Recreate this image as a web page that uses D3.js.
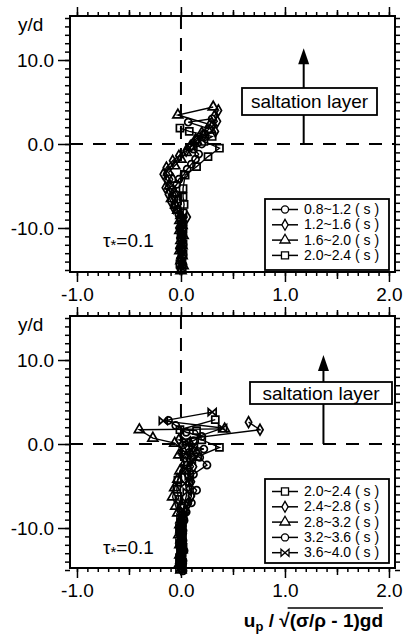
<!DOCTYPE html>
<html>
<head>
<meta charset="utf-8">
<script src="https://cdn.jsdelivr.net/npm/d3@7"></script>
<style>
  body { margin: 0; background: #fff; }
  text { font-family: "Liberation Sans", Arial, Helvetica, sans-serif; fill: #000; }
</style>
</head>
<body>
<svg id="chart" width="404" height="635"></svg>
<script>
// tick labels
var xTicks = [-1.0, 0.0, 1.0, 2.0];
var yTicks = [-10.0, 0.0, 10.0];
var tauValue = "0.1";

// ---- upper panel: [u_p / sqrt((s-1)gd), y/d] for each time window ----
var upLabels = ["0.8~1.2 ( s )", "1.2~1.6 ( s )", "1.6~2.0 ( s )", "2.0~2.4 ( s )"];
var upSymbols = ["circle", "diamond", "triangle", "square"];

var up_08_12 = [[0.01,-15.0],[0.02,-14.4],[0.00,-13.8],[0.02,-13.2],[0.01,-12.6],[0.02,-12.0],[0.00,-11.4],[0.02,-10.8],
  [0.01,-10.2],[0.02,-9.6],[0.00,-9.0],[-0.02,-8.4],[-0.04,-7.8],[-0.06,-7.2],[-0.03,-6.6],[-0.05,-6.0],[-0.08,-5.4],
  [-0.04,-4.8],[-0.02,-4.2],[0.03,-3.6],[0.06,-3.0],[0.10,-2.4],[0.14,-1.8],[0.17,-1.2],[0.12,-0.6],[0.20,0.0],
  [0.16,0.6],[0.22,1.2],[0.27,1.8],[0.07,2.6],[0.30,3.0]];
var up_12_16 = [[-0.01,-14.8],[0.01,-14.2],[-0.01,-13.6],[0.00,-13.0],[-0.02,-12.4],[0.01,-11.8],[-0.01,-11.2],[0.00,-10.6],
  [-0.02,-10.0],[0.01,-9.4],[0.06,-8.7],[-0.07,-7.6],[-0.10,-6.8],[-0.12,-6.0],[-0.15,-5.2],[-0.13,-4.4],[-0.17,-3.6],
  [-0.14,-2.8],[-0.08,-2.0],[-0.02,-1.4],[0.05,-0.8],[0.10,-0.2],[0.15,0.4],[0.22,1.0],[0.33,1.5],[0.30,2.1],
  [0.35,2.7],[0.32,3.3],[0.36,4.0]];
var up_16_20 = [[0.00,-15.1],[0.02,-14.5],[0.00,-13.9],[0.01,-13.3],[-0.01,-12.7],[0.01,-12.1],[0.00,-11.5],[0.02,-10.9],
  [-0.01,-10.3],[0.01,-9.7],[-0.01,-9.1],[0.00,-8.5],[-0.03,-7.9],[-0.05,-7.3],[-0.09,-6.5],[-0.07,-5.8],[-0.11,-5.0],
  [-0.08,-4.2],[-0.12,-3.4],[-0.06,-2.6],[0.00,-1.8],[0.05,-1.0],[0.09,-0.3],[0.14,0.5],[0.20,1.3],[0.28,2.3],
  [-0.03,3.45],[0.31,4.4]];
var up_20_24 = [[0.01,-14.9],[-0.01,-14.3],[0.01,-13.7],[0.02,-13.1],[0.00,-12.5],[0.02,-11.9],[0.01,-11.3],[0.00,-10.7],
  [0.02,-10.1],[0.01,-9.5],[0.00,-8.9],[0.02,-8.2],[0.03,-7.2],[0.02,-6.3],[0.02,-5.3],[0.04,-3.7],[0.15,-2.7],
  [0.26,-1.5],[0.37,-0.5],[0.22,0.3],[0.30,0.9],[0.08,1.5],[-0.01,1.9]];

// ---- lower panel ----
var loLabels = ["2.0~2.4 ( s )", "2.4~2.8 ( s )", "2.8~3.2 ( s )", "3.2~3.6 ( s )", "3.6~4.0 ( s )"];
var loSymbols = ["square", "diamond", "triangle", "circle", "bowtie"];

var lo_20_24 = [[0.01,-14.7],[-0.01,-14.1],[0.01,-13.5],[0.00,-12.9],[0.02,-12.3],[0.00,-11.7],[0.01,-11.1],[-0.01,-10.5],
  [0.01,-9.9],[0.00,-9.3],[0.02,-8.6],[0.00,-7.6],[-0.02,-6.6],[-0.04,-5.4],[-0.03,-4.3],[0.06,-2.5],[0.16,-1.5],
  [0.37,-0.4],[0.20,0.5],[0.15,1.6],[-0.01,1.7],[0.33,2.9]];
var lo_24_28 = [[0.00,-14.9],[0.02,-14.3],[0.00,-13.7],[0.01,-13.1],[-0.01,-12.5],[0.01,-11.9],[0.00,-11.3],[0.02,-10.7],
  [0.00,-10.1],[0.01,-9.5],[0.03,-8.9],[0.05,-8.0],[0.07,-7.1],[0.10,-6.2],[0.08,-5.3],[0.10,-4.5],[0.06,-3.6],
  [0.12,-2.7],[0.08,-1.8],[0.15,-1.0],[0.10,-0.2],[-0.02,0.5],[0.76,1.7],[0.65,2.6]];
var lo_28_32 = [[0.00,-15.0],[-0.02,-14.4],[0.00,-13.8],[-0.01,-13.2],[0.01,-12.6],[-0.01,-12.0],[0.00,-11.4],[-0.02,-10.8],
  [0.00,-10.2],[-0.01,-9.6],[0.00,-9.0],[-0.03,-8.2],[-0.05,-7.4],[-0.08,-6.3],[-0.06,-5.2],[-0.03,-4.2],[-0.01,-3.2],
  [0.04,-2.2],[-0.02,-1.3],[0.02,-0.8],[-0.06,0.1],[-0.27,0.7],[-0.40,1.7],[0.42,1.8]];
var lo_32_36 = [[0.02,-15.1],[0.00,-14.5],[0.02,-13.9],[0.01,-13.3],[0.03,-12.7],[0.01,-12.1],[0.02,-11.5],[0.00,-10.9],
  [0.02,-10.3],[0.01,-9.7],[0.03,-9.1],[0.05,-8.1],[0.10,-7.0],[0.15,-5.5],[0.08,-4.6],[0.12,-3.6],[0.25,-2.5],
  [0.18,-1.6],[0.08,-1.0],[0.22,-0.6],[0.02,-0.1],[0.12,0.4],[0.20,0.9],[0.05,1.4],[-0.05,2.2],[-0.12,2.8]];
var lo_36_40 = [[-0.01,-14.8],[0.01,-14.2],[-0.01,-13.6],[0.00,-13.0],[0.01,-12.4],[-0.01,-11.8],[0.01,-11.2],[0.00,-10.6],
  [-0.01,-10.0],[0.01,-9.4],[0.00,-8.8],[0.02,-7.8],[0.04,-6.8],[0.06,-5.7],[0.04,-4.7],[0.08,-3.8],[0.05,-2.9],
  [0.10,-2.0],[0.05,-1.1],[0.12,-0.3],[0.05,0.4],[0.40,1.9],[-0.17,2.75],[0.30,3.8]];

var svg = d3.select("#chart");

var x = d3.scaleLinear().domain([-1.067, 2.058]).range([70, 395]);

// marker shapes
var bowtie = "M-4,-3.5L4,3.5L4,-3.5L-4,3.5Z";
function symbolPath(name) {
  if (name == "bowtie") return bowtie;
  var types = {circle: [d3.symbolCircle, 40], diamond: [d3.symbolDiamond, 34],
               triangle: [d3.symbolTriangle, 44], square: [d3.symbolSquare, 50]};
  return d3.symbol().type(types[name][0]).size(types[name][1])();
}

function fmt(d) { return d.toFixed(1); }

function drawPanel(opt) {
  var y = d3.scaleLinear().domain(opt.yDomain).range([opt.bottom, opt.top]);
  var g = svg.append("g");

  // dashed reference lines
  g.append("line")
    .attr("x1", x.range()[0]).attr("x2", x.range()[1])
    .attr("y1", y(0)).attr("y2", y(0))
    .attr("stroke", "#000").attr("stroke-width", 2).attr("stroke-dasharray", "13,10");
  g.append("line")
    .attr("x1", x(0)).attr("x2", x(0))
    .attr("y1", opt.top).attr("y2", opt.bottom)
    .attr("stroke", "#000").attr("stroke-width", 2).attr("stroke-dasharray", "13,9");

  // axes: minor / medium / major ticks
  var minorX = d3.range(-10, 21).map(function(i) { return i / 10; });
  var midX = [-0.5, 0.5, 1.5];
  var minorY = d3.range(-15, 16);

  function addAxis(axis, transform) {
    var a = g.append("g").attr("transform", transform).call(axis);
    a.select(".domain").remove();
    a.selectAll("line").attr("stroke-width", 1.5);
    a.selectAll("text").attr("font-size", 19).attr("font-family", null);
    return a;
  }
  addAxis(d3.axisBottom(x).tickValues(minorX).tickSize(4).tickFormat(""), "translate(0," + opt.bottom + ")");
  addAxis(d3.axisBottom(x).tickValues(midX).tickSize(7).tickFormat(""), "translate(0," + opt.bottom + ")");
  addAxis(d3.axisBottom(x).tickValues(xTicks).tickSize(10).tickPadding(6).tickFormat(fmt), "translate(0," + opt.bottom + ")");
  addAxis(d3.axisTop(x).tickValues(minorX).tickSize(4).tickFormat(""), "translate(0," + opt.top + ")");
  addAxis(d3.axisTop(x).tickValues(midX).tickSize(6).tickFormat(""), "translate(0," + opt.top + ")");
  addAxis(d3.axisTop(x).tickValues(xTicks).tickSize(9).tickFormat(""), "translate(0," + opt.top + ")");
  addAxis(d3.axisLeft(y).tickValues(minorY).tickSize(5).tickFormat(""), "translate(70,0)");
  addAxis(d3.axisLeft(y).tickValues(yTicks).tickSize(12).tickPadding(4).tickFormat(fmt), "translate(70,0)");
  addAxis(d3.axisRight(y).tickValues(minorY).tickSize(5).tickFormat(""), "translate(395,0)");

  // frame
  g.append("rect")
    .attr("x", 70).attr("y", opt.top)
    .attr("width", 325).attr("height", opt.bottom - opt.top)
    .attr("fill", "none").attr("stroke", "#000").attr("stroke-width", 2);

  // y/d label
  g.append("text").attr("x", 18).attr("y", opt.top + 15).attr("font-size", 19).text("y/d");

  // saltation layer annotation
  var ax = x(opt.arrowX);
  var b = opt.box;
  g.append("line").attr("x1", ax).attr("x2", ax).attr("y1", y(0)).attr("y2", b[1] + b[3])
    .attr("stroke", "#000").attr("stroke-width", 2);
  g.append("line").attr("x1", ax).attr("x2", ax).attr("y1", b[1]).attr("y2", y(opt.arrowTip) + 15)
    .attr("stroke", "#000").attr("stroke-width", 2);
  g.append("path")
    .attr("d", "M" + ax + "," + y(opt.arrowTip) + "l-5.5,16h11z")
    .attr("fill", "#000");
  g.append("rect").attr("x", b[0]).attr("y", b[1]).attr("width", b[2]).attr("height", b[3])
    .attr("fill", "#fff").attr("stroke", "#000").attr("stroke-width", 1.8);
  g.append("text").attr("x", b[0] + b[2] / 2).attr("y", opt.boxText)
    .attr("text-anchor", "middle").attr("font-size", 19).text("saltation layer");

  // profiles
  var line = d3.line().x(function(d) { return x(d[0]); }).y(function(d) { return y(d[1]); });
  opt.series.forEach(function(s, i) {
    g.append("path").datum(s).attr("d", line)
      .attr("fill", "none").attr("stroke", "#000").attr("stroke-width", 1.4);
  });
  opt.series.forEach(function(s, i) {
    g.selectAll(null).data(s).enter().append("path")
      .attr("d", symbolPath(opt.symbols[i]))
      .attr("transform", function(d) { return "translate(" + x(d[0]) + "," + y(d[1]) + ")"; })
      .attr("fill", "none").attr("stroke", "#000").attr("stroke-width", 1.7);
  });

  // tau label
  var t = g.append("text").attr("x", 103).attr("y", opt.tauY).attr("font-size", 19);
  t.append("tspan").text("τ");
  t.append("tspan").attr("font-size", 15).attr("dy", 3).text("*");
  t.append("tspan").attr("dy", -3).text("=" + tauValue);

  // legend
  var L = opt.legend;
  var lg = g.append("g");
  lg.append("rect").attr("x", L[0]).attr("y", L[1]).attr("width", L[2]).attr("height", L[3])
    .attr("fill", "#fff").attr("stroke", "#000").attr("stroke-width", 1.8);
  opt.labels.forEach(function(lab, i) {
    var by = opt.legendBase + i * 15.3;
    var cy = by - 4.5;
    lg.append("line").attr("x1", 272).attr("x2", 298).attr("y1", cy).attr("y2", cy)
      .attr("stroke", "#000").attr("stroke-width", 1.5);
    lg.append("path").attr("d", symbolPath(opt.symbols[i]))
      .attr("transform", "translate(285," + cy + ")")
      .attr("fill", "#fff").attr("stroke", "#000").attr("stroke-width", 1.3);
    lg.append("text").attr("x", 304).attr("y", by).attr("font-size", 14).text(lab);
  });
}

drawPanel({
  top: 16, bottom: 272, yDomain: [-15.24, 15.24],
  series: [up_08_12, up_12_16, up_16_20, up_20_24], symbols: upSymbols, labels: upLabels,
  arrowX: 1.18, arrowTip: 11.4, box: [242, 88, 135, 27], boxText: 108,
  tauY: 247, legend: [265, 199, 124, 71], legendBase: 214
});

drawPanel({
  top: 316, bottom: 568, yDomain: [-14.76, 15.24],
  series: [lo_20_24, lo_24_28, lo_28_32, lo_32_36, lo_36_40], symbols: loSymbols, labels: loLabels,
  arrowX: 1.37, arrowTip: 10.6, box: [250, 382, 142, 22], boxText: 400,
  tauY: 554, legend: [265, 479, 124, 84], legendBase: 496
});

// x axis title with radical
var xt = svg.append("text").attr("x", 383).attr("y", 627)
  .attr("text-anchor", "end").attr("font-size", 19).attr("font-weight", "bold");
xt.append("tspan").text("u");
xt.append("tspan").attr("font-size", 13).attr("dy", 4).text("p");
xt.append("tspan").attr("dy", -4).text(" / √");
xt.append("tspan").text("(σ/ρ - 1)gd");
var n = xt.node();
var x0 = n.getStartPositionOfChar(6).x;
var x1 = n.getEndPositionOfChar(n.getNumberOfChars() - 1).x;
svg.append("line").attr("x1", x0 - 2).attr("x2", x1).attr("y1", 608).attr("y2", 608)
  .attr("stroke", "#000").attr("stroke-width", 1.6);
</script>
</body>
</html>
